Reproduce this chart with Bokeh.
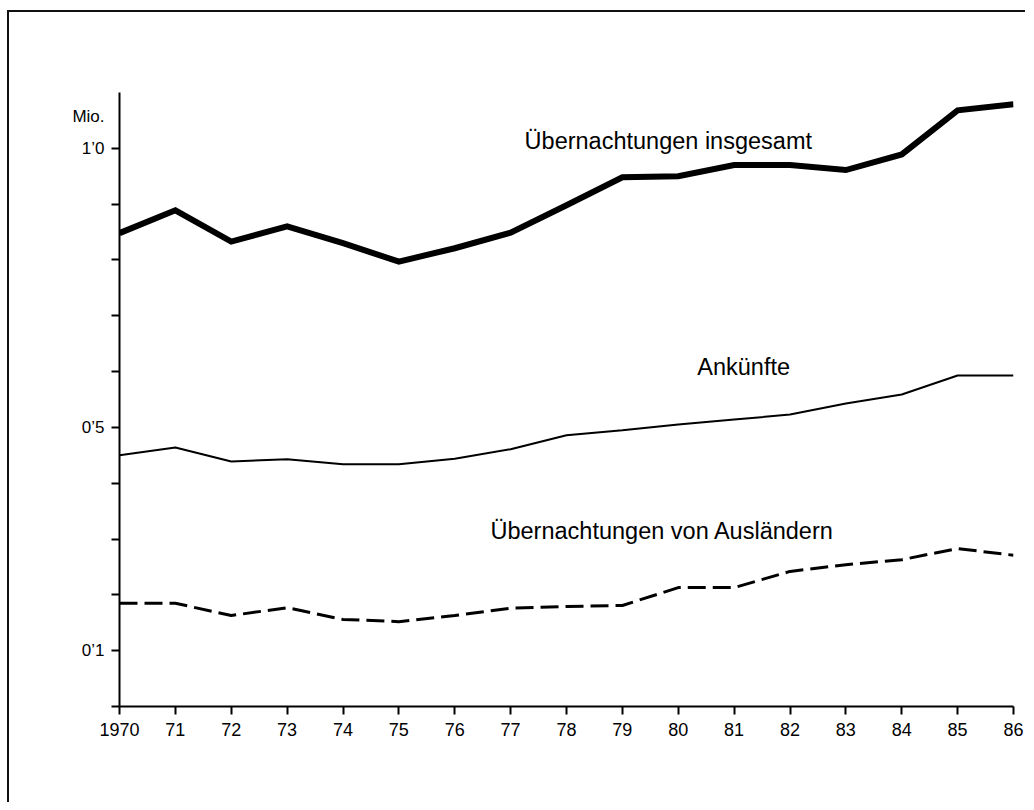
from bokeh.plotting import figure
from bokeh.models import FixedTicker, Label
from bokeh.embed import file_html
from bokeh.resources import INLINE

years = list(range(1970, 1987))
x_tick_labels = ["1970", "71", "72", "73", "74", "75", "76", "77", "78", "79",
                 "80", "81", "82", "83", "84", "85", "86"]

# Mio.
total_nights = [0.848, 0.889, 0.833, 0.860, 0.830, 0.797, 0.821, 0.849, 0.898,
                0.948, 0.950, 0.970, 0.970, 0.961, 0.989, 1.068, 1.079]
arrivals = [0.450, 0.464, 0.439, 0.443, 0.434, 0.434, 0.444, 0.461, 0.486,
            0.495, 0.505, 0.514, 0.523, 0.543, 0.559, 0.593, 0.593]
foreign_nights = [0.185, 0.185, 0.163, 0.177, 0.156, 0.152, 0.163, 0.176, 0.179,
                  0.181, 0.213, 0.213, 0.242, 0.254, 0.263, 0.283, 0.271]

y_major_ticks = [0.1, 0.5, 1.0]
y_major_labels = ["0’1", "0’5", "1’0"]
y_unit_label = "Mio."
y_unit_pos = 1.057
y_minor_ticks = [0.0, 0.1, 0.2, 0.3, 0.4, 0.5, 0.6, 0.7, 0.8, 0.9, 1.0]

series_names = ["Übernachtungen insgesamt", "Ankünfte", "Übernachtungen von Ausländern"]

FONT = "Liberation Sans"

p = figure(width=1018, height=792, output_backend="svg", toolbar_location=None,
           x_range=(1970, 1986), y_range=(0, 1.1),
           min_border_left=110, min_border_right=14, min_border_top=80,
           min_border_bottom=98)
p.styles = {"box-shadow": "-2px -2px 0px 0px #111",
            "margin-left": "9px", "margin-top": "12px"}
p.outline_line_color = None
p.xgrid.visible = False
p.ygrid.visible = False

p.line(years, total_nights, line_color="black", line_width=6, line_join="miter")
p.line(years, arrivals, line_color="black", line_width=2)
p.line(years, foreign_nights, line_color="black", line_width=3, line_dash="18 7")

# axes
p.xaxis.ticker = FixedTicker(ticks=years)
p.xaxis.major_label_overrides = {y: l for y, l in zip(years, x_tick_labels)}
p.xaxis.major_tick_in = 0
p.xaxis.major_tick_out = 8
p.xaxis.major_label_standoff = 8

overrides = {t: l for t, l in zip(y_major_ticks, y_major_labels)}
overrides[y_unit_pos] = y_unit_label
p.yaxis.ticker = FixedTicker(ticks=y_major_ticks + [y_unit_pos], minor_ticks=y_minor_ticks)
p.yaxis.major_label_overrides = overrides
p.yaxis.major_tick_in = 0
p.yaxis.major_tick_out = 8
p.yaxis.minor_tick_in = 0
p.yaxis.minor_tick_out = 8
p.yaxis.major_label_standoff = 7

for ax in (p.xaxis, p.yaxis):
    ax.axis_line_width = 2
    ax.axis_line_color = "black"
    ax.major_tick_line_width = 2
    ax.major_tick_line_color = "black"
    ax.minor_tick_line_width = 2
    ax.minor_tick_line_color = "black"
    ax.major_label_text_font = FONT
    ax.major_label_text_font_size = "18px"
    ax.major_label_text_color = "black"
p.xaxis.minor_tick_line_color = None
p.yaxis.major_tick_line_color = None
p.yaxis.major_label_text_font_size = "17px"

label_pos = [(1977.25, 1.0125), (1980.34, 0.609), (1976.64, 0.315)]
for name, (lx, ly) in zip(series_names, label_pos):
    p.add_layout(Label(x=lx, y=ly, text=name, text_align="left",
                       text_baseline="middle", text_font=FONT,
                       text_font_size="23.5px", text_color="black"))

open("out.html", "w").write(file_html(p, INLINE))
